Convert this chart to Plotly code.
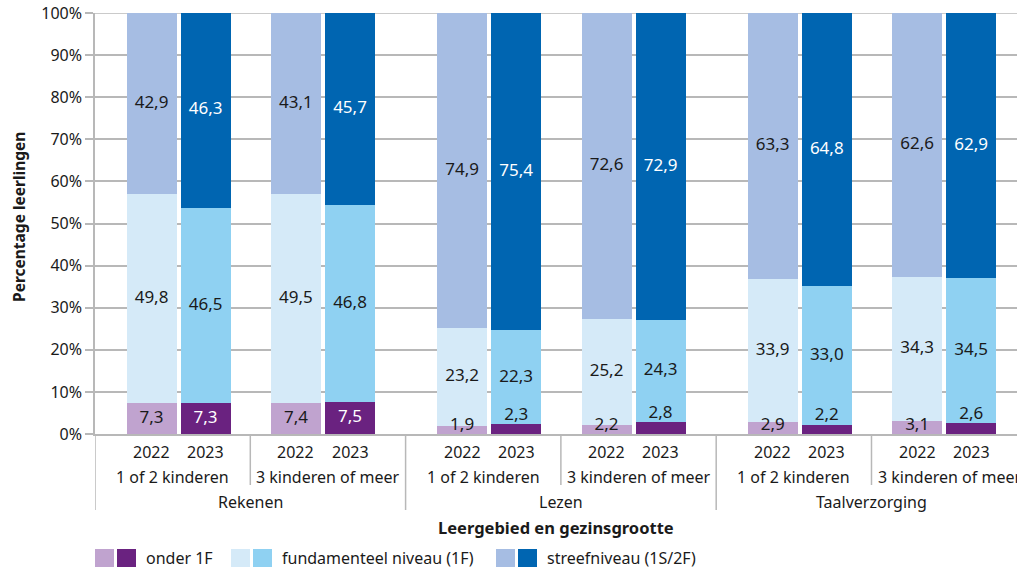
import plotly.graph_objects as go

# Leerlingen per referentieniveau, per leergebied en gezinsgrootte (percentages)
Subjects = ['Rekenen', 'Lezen', 'Taalverzorging']
Families = ['1 of 2 kinderen', '3 kinderen of meer']
Years = ['2022', '2023']
Levels = ['onder 1F', 'fundamenteel niveau (1F)', 'streefniveau (1S/2F)']

# order: Rekenen 1-2, Rekenen 3+, Lezen 1-2, Lezen 3+, Taal 1-2, Taal 3+
Onder_2022 = [7.3, 7.4, 1.9, 2.2, 2.9, 3.1]
Onder_2023 = [7.3, 7.5, 2.3, 2.8, 2.2, 2.6]
Fund_2022 = [49.8, 49.5, 23.2, 25.2, 33.9, 34.3]
Fund_2023 = [46.5, 46.8, 22.3, 24.3, 33.0, 34.5]
Streef_2022 = [42.9, 43.1, 74.9, 72.6, 63.3, 62.6]
Streef_2023 = [46.3, 45.7, 75.4, 72.9, 64.8, 62.9]

Y_ticks = list(range(0, 101, 10))

Colors = {
    '2022': ['#c0a3cf', '#d5eaf8', '#a6bde3'],
    '2023': ['#6a2280', '#8fd1f2', '#0065b1'],
}
Text_colors = {
    '2022': ['#1a1a1a', '#1a1a1a', '#1a1a1a'],
    '2023': ['white', '#1a1a1a', 'white'],
}

FONT = 'Noto Sans'
DARK = '#1a1a1a'
GRID = '#b8b8b8'

W, H = 1017, 568
PLOT_LEFT, PLOT_TOP, PLOT_BOTTOM = 95, 13, 434
L = PLOT_LEFT
T = PLOT_TOP
B = H - PLOT_BOTTOM
PLOT_H = PLOT_BOTTOM - PLOT_TOP
PLOT_W = W - L

BAR_W = 0.322
HALF_GAP = 0.174
SHIFT = [0.038, -0.032]   # pairs sit a bit closer to each other within a subject

n = len(Onder_2022)
centers = [i + SHIFT[i % 2] for i in range(n)]
xpos = {'2022': [c - HALF_GAP for c in centers],
        '2023': [c + HALF_GAP for c in centers]}
data = {'2022': [Onder_2022, Fund_2022, Streef_2022],
        '2023': [Onder_2023, Fund_2023, Streef_2023]}

fig = go.Figure()

for yr in Years:
    base = [0.0] * n
    for k, lvl in enumerate(Levels):
        vals = data[yr][k]
        fig.add_trace(go.Bar(
            x=xpos[yr], y=vals, width=BAR_W,
            marker=dict(color=Colors[yr][k], line=dict(width=0)),
            name=lvl, showlegend=False, hoverinfo='skip'))
        # value labels
        ys, pos, cols = [], [], []
        for i, v in enumerate(vals):
            if k == 0 and yr == '2023' and v < 5:
                ys.append(base[i] + v)
                pos.append('top center')
                cols.append(DARK)
            else:
                ys.append(base[i] + max(v / 2, 2.0) if k == 0 else base[i] + v / 2)
                pos.append('middle center')
                cols.append(Text_colors[yr][k])
        fig.add_trace(go.Scatter(
            x=xpos[yr], y=ys, mode='text',
            text=[f'{v:.1f}'.replace('.', ',') for v in vals],
            textposition=pos,
            textfont=dict(family=FONT, size=17, color=cols),
            showlegend=False, hoverinfo='skip', cliponaxis=False))
        base = [b + v for b, v in zip(base, vals)]


def px_y(py):
    # window pixel row -> paper y
    return (PLOT_BOTTOM - py) / PLOT_H


def px_x(px):
    return (px - PLOT_LEFT) / PLOT_W


shapes = []
annotations = []

# top gridline (100%) drawn below the bars
shapes.append(dict(type='line', xref='paper', yref='y', layer='below',
                   x0=0, x1=1, y0=100, y1=100,
                   line=dict(color=GRID, width=1.5)))

# dividers below the axis
for i in range(-1, n - 1):
    long = (i % 2 == 1)
    shapes.append(dict(type='line', xref='x', yref='paper',
                       x0=i + 0.5, x1=i + 0.5, y0=0,
                       y1=px_y(510) if long else px_y(485),
                       line=dict(color=GRID, width=1.5)))

# year labels
for yr in Years:
    for x in xpos[yr]:
        annotations.append(dict(x=x, y=0, xref='x', yref='paper', text=yr,
                                showarrow=False, yanchor='middle', yshift=-18,
                                font=dict(family=FONT, size=16, color=DARK)))
# family labels
for i in range(n):
    annotations.append(dict(x=i, y=0, xref='x', yref='paper',
                            text=Families[i % 2], showarrow=False,
                            yanchor='middle', yshift=-43,
                            font=dict(family=FONT, size=16, color=DARK)))
# subject labels
for s, subj in enumerate(Subjects):
    annotations.append(dict(x=2 * s + 0.5, y=0, xref='x', yref='paper',
                            text=subj, showarrow=False,
                            yanchor='middle', yshift=-68,
                            font=dict(family=FONT, size=16, color=DARK)))

# axis titles
annotations.append(dict(x=0.5, y=0, xref='paper', yref='paper',
                        text='<b>Leergebied en gezinsgrootte</b>', showarrow=False,
                        yanchor='middle', yshift=-93,
                        font=dict(family=FONT, size=16.5, color=DARK)))
annotations.append(dict(x=px_x(19), y=px_y(217), xref='paper', yref='paper',
                        text='<b>Percentage leerlingen</b>', showarrow=False,
                        textangle=-90, xanchor='center', yanchor='middle',
                        font=dict(family=FONT, size=15.5, color=DARK)))

# legend (two swatches per level: 2022 and 2023)
legend_x = [95, 231, 496]
for k, lvl in enumerate(Levels):
    x0 = legend_x[k]
    for j, yr in enumerate(Years):
        sx = x0 + j * 22
        shapes.append(dict(type='rect', xref='paper', yref='paper',
                           x0=px_x(sx), x1=px_x(sx + 19),
                           y0=px_y(567), y1=px_y(549),
                           fillcolor=Colors[yr][k], line=dict(width=0)))
    annotations.append(dict(x=px_x(x0 + 49), y=px_y(558), xref='paper', yref='paper',
                            text=lvl, showarrow=False, xanchor='left',
                            yanchor='middle',
                            font=dict(family=FONT, size=16, color=DARK)))

fig.update_layout(
    width=W, height=H,
    margin=dict(l=L, r=0, t=T, b=B, autoexpand=False),
    plot_bgcolor='white', paper_bgcolor='white',
    barmode='stack',
    showlegend=False,
    hovermode=False,
    shapes=shapes,
    annotations=annotations,
    font=dict(family=FONT, size=16, color=DARK),
    xaxis=dict(range=[-0.5, 5.437], showticklabels=False, showgrid=False,
               zeroline=False, showline=True, linecolor=GRID, linewidth=1.5,
               ticks=''),
    yaxis=dict(range=[0, 100], tickvals=Y_ticks,
               ticktext=[f'{t}%' for t in Y_ticks],
               ticklabeloverflow='allow',
               showgrid=True, gridcolor=GRID, gridwidth=1.5,
               zeroline=False, showline=True, linecolor=GRID, linewidth=1.5,
               ticks='outside', ticklen=8, tickcolor=GRID, tickwidth=1.5,
               tickfont=dict(family=FONT, size=16, color=DARK)),
)

# drop the default page margin so the figure fills the window
fig.write_html('out.html', config={'displayModeBar': False},
               post_script="document.body.style.margin='0';document.body.style.overflow='hidden';")
